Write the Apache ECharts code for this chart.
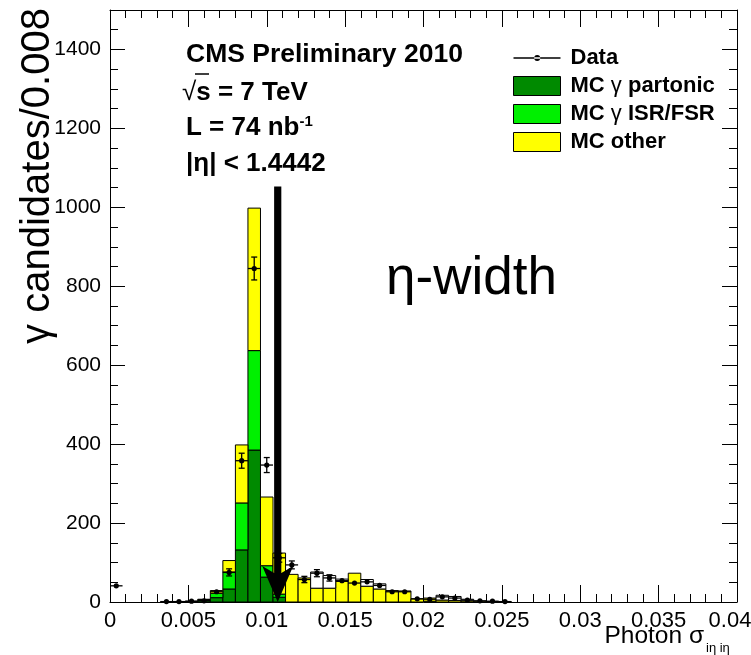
<!DOCTYPE html>
<html><head><meta charset="utf-8">
<script src="https://cdn.jsdelivr.net/npm/echarts@6/dist/echarts.min.js"></script>
<style>html,body{margin:0;padding:0;background:#fff}#c{width:751px;height:655px}</style>
</head><body><div id="c"></div>
<script>
// ---- data (bins of 0.0008 in Photon sigma_ietaieta) ----
const binWidth = 0.0008;
const binLow = [0,0.0008,0.0016,0.0024,0.0032,0.004,0.0048,0.0056,0.0064,0.0072,
  0.008,0.0088,0.0096,0.0104,0.0112,0.012,0.0128,0.0136,0.0144,0.0152,
  0.016,0.0168,0.0176,0.0184,0.0192,0.02,0.0208,0.0216,0.0224,0.0232,
  0.024,0.0248,0.0256,0.0264,0.0272,0.028,0.0288,0.0296,0.0304,0.0312,
  0.032,0.0328,0.0336,0.0344,0.0352,0.036,0.0368,0.0376,0.0384,0.0392];
const mcPartonic = [0,0,0,0,0,0,1,4,11,33, 132,385,63,12,0,0,0,0,0,0, 0,0,0,0,0,2,0,0,0,0, 0,0,0,0,0,0,0,0,0,0, 0,0,0,0,0,0,0,0,0,0];
const mcIsrFsr   = [0,0,0,0,0,0,0,2,11,43, 119,252,29,8,0,0,0,0,0,0, 0,0,0,0,0,0,0,0,0,0, 0,0,0,0,0,0,0,0,0,0, 0,0,0,0,0,0,0,0,0,0];
const mcOther    = [0,0,0,0,0,0,1,1,7,29, 147,361,174,104,70,61,35,35,52,73, 40,33,29,28,8,8,5,4,3,2, 1,1,0,0,0,0,0,0,0,0, 0,0,0,0,0,0,0,0,0,0];
const mcExtra    = [0,0,0,0,0,0,0,0,0,0, 0,0,0,0,0,0,41,32,6,0, 17,13,0,0,0,0,12,10,4,0, 0,0,0,0,0,0,0,0,0,0, 0,0,0,0,0,0,0,0,0,0];
const dataVals   = [41,null,null,null,1,1,2,3,26,75, 358,845,347,112,94,57,73,61,54,48, 51,42,26,26,8,7,13,10,5,3, 2,1,null,null,null,null,null,null,null,null, null,null,null,null,null,null,null,null,null,null];
const dataErr    = [6,0,0,0,1,1,1.4,1.7,5,9, 19,29,19,11,10,8,9,8,7,7, 7,6,5,5,3,3,4,3,2,2, 1,1,0,0,0,0,0,0,0,0, 0,0,0,0,0,0,0,0,0,0];
const arrowX = 0.0107, arrowTop = 1053, arrowTip = 0;

const FONT = '"Liberation Sans", Arial, Helvetica, sans-serif';
const C_PART = '#008a00', C_ISR = '#00f000', C_OTHER = '#ffff00';

function stacked(lower, arr) {
  return binLow.map((x, i) => {
    let base = 0; lower.forEach(a => base += a[i]);
    return [x, x + binWidth, base, base + arr[i]];
  });
}
function rectRenderer(color) {
  return function (params, api) {
    const x0 = api.value(0), x1 = api.value(1), y0 = api.value(2), y1 = api.value(3);
    if (!(y1 > y0)) return null;
    const p0 = api.coord([x0, y0]), p1 = api.coord([x1, y1]);
    return { type: 'rect', shape: { x: p0[0], y: p1[1], width: p1[0] - p0[0], height: p0[1] - p1[1] },
      style: { fill: color, stroke: '#000', lineWidth: 1 } };
  };
}
const pointData = [];
binLow.forEach((x, i) => { if (dataVals[i] != null) pointData.push([x + binWidth / 2, dataVals[i], dataErr[i], binWidth / 2]); });

function pointRenderer(params, api) {
  const xc = api.value(0), v = api.value(1), e = api.value(2), hw = api.value(3);
  const p = api.coord([xc, v]);
  const pl = api.coord([xc - hw, v]), pr = api.coord([xc + hw, v]);
  const pt = api.coord([xc, v + e]), pb = api.coord([xc, Math.max(0, v - e)]);
  const st = { stroke: '#000', lineWidth: 1.3 };
  const ch = [
    { type: 'line', shape: { x1: pl[0], y1: p[1], x2: pr[0], y2: p[1] }, style: st },
    { type: 'circle', shape: { cx: p[0], cy: p[1], r: 2.6 }, style: { fill: '#000' } }
  ];
  if (pb[1] - pt[1] > 6) {
    ch.push({ type: 'line', shape: { x1: p[0], y1: pt[1], x2: p[0], y2: pb[1] }, style: st });
    ch.push({ type: 'line', shape: { x1: p[0] - 3, y1: pt[1], x2: p[0] + 3, y2: pt[1] }, style: st });
    ch.push({ type: 'line', shape: { x1: p[0] - 3, y1: pb[1], x2: p[0] + 3, y2: pb[1] }, style: st });
  }
  return { type: 'group', children: ch };
}
function arrowRenderer(params, api) {
  const x = api.value(0), top = api.value(1), tip = api.value(2);
  const pt = api.coord([x, top]), pp = api.coord([x, tip]);
  const cx = pt[0], headLen = 36, hw = 15.5, sw = 3.6;
  const yb = pp[1] - headLen;
  return { type: 'group', children: [
    { type: 'rect', shape: { x: cx - sw, y: pt[1], width: 2 * sw, height: yb + 8 - pt[1] }, style: { fill: '#000' } },
    { type: 'polygon', shape: { points: [[cx - hw, yb], [cx - sw, yb + 7], [cx + sw, yb + 7], [cx + hw, yb], [cx, pp[1]]] }, style: { fill: '#000' } }
  ] };
}

const axisCommon = {
  axisLine: { show: true, onZero: false, lineStyle: { color: '#000', width: 1 } },
  splitLine: { show: false }
};
const chart = echarts.init(document.getElementById('c'));
chart.setOption({
  animation: false,
  backgroundColor: '#fff',
  grid: { left: 110, right: 14, top: 10, bottom: 53, containLabel: false, outerBoundsMode: 'none' },
  xAxis: [
    Object.assign({ type: 'value', min: 0, max: 0.04, interval: 0.005, position: 'bottom',
      axisTick: { show: true, inside: true, length: 17, lineStyle: { color: '#000' } },
      minorTick: { show: true, splitNumber: 5, length: 8, lineStyle: { color: '#000' } },
      axisLabel: { color: '#000', fontSize: 22, fontFamily: FONT, margin: 8,
        formatter: v => Math.abs(v - 0.04) < 1e-9 ? '{r|0.04}' : String(+v.toFixed(4)),
        rich: { r: { color: '#000', fontSize: 22, fontFamily: FONT, padding: [0, 14, 0, 0] } } } }, axisCommon),
    Object.assign({ type: 'value', min: 0, max: 0.04, interval: 0.005, position: 'top',
      axisTick: { show: true, inside: true, length: 17, lineStyle: { color: '#000' } },
      minorTick: { show: true, splitNumber: 5, length: 8, lineStyle: { color: '#000' } },
      axisLabel: { show: false } }, axisCommon)
  ],
  yAxis: [
    Object.assign({ type: 'value', min: 0, max: 1500, interval: 200, position: 'left',
      axisTick: { show: true, inside: true, length: 15, lineStyle: { color: '#000' } },
      minorTick: { show: true, splitNumber: 4, length: 8, lineStyle: { color: '#000' } },
      axisLabel: { color: '#000', fontSize: 21, fontFamily: FONT, margin: 9,
        formatter: v => v > 1400 ? '' : String(v) } }, axisCommon),
    Object.assign({ type: 'value', min: 0, max: 1500, interval: 200, position: 'right',
      axisTick: { show: true, inside: true, length: 15, lineStyle: { color: '#000' } },
      minorTick: { show: true, splitNumber: 4, length: 8, lineStyle: { color: '#000' } },
      axisLabel: { show: false } }, axisCommon)
  ],
  legend: {
    orient: 'vertical', left: 513, top: 47, padding: 0, itemWidth: 47, itemHeight: 19, itemGap: 6,
    selectedMode: false,
    textStyle: { color: '#000', fontSize: 22, lineHeight: 19, fontWeight: 'bold', fontFamily: FONT, padding: [0, 0, 0, 5],
      rich: {
        t: { color: '#000', fontSize: 22, lineHeight: 19, fontWeight: 'bold', fontFamily: FONT },
        g: { color: '#000', fontSize: 22, lineHeight: 19, fontWeight: 'normal', fontFamily: FONT } } },
    formatter: n => '{t|' + n.replace('γ', '}{g|γ}{t|') + '}',
    data: [
      { name: 'Data', icon: 'path://M0,9L47,9L47,10.4L0,10.4Z M20.7,9.7a3,3 0 1,0 6,0a3,3 0 1,0 -6,0Z', itemStyle: { color: '#000', borderWidth: 0 } },
      { name: 'MC γ partonic', icon: 'rect', itemStyle: { color: C_PART, borderColor: '#000', borderWidth: 1 } },
      { name: 'MC γ ISR/FSR', icon: 'rect', itemStyle: { color: C_ISR, borderColor: '#000', borderWidth: 1 } },
      { name: 'MC other', icon: 'rect', itemStyle: { color: C_OTHER, borderColor: '#000', borderWidth: 1 } }
    ]
  },
  series: [
    { type: 'custom', name: 'MC γ partonic', itemStyle: { color: C_PART }, renderItem: rectRenderer(C_PART),
      encode: { x: [0, 1], y: [2, 3] }, data: stacked([], mcPartonic), z: 2 },
    { type: 'custom', name: 'MC γ ISR/FSR', itemStyle: { color: C_ISR }, renderItem: rectRenderer(C_ISR),
      encode: { x: [0, 1], y: [2, 3] }, data: stacked([mcPartonic], mcIsrFsr), z: 2 },
    { type: 'custom', name: 'MC other', itemStyle: { color: C_OTHER }, renderItem: rectRenderer(C_OTHER),
      encode: { x: [0, 1], y: [2, 3] }, data: stacked([mcPartonic, mcIsrFsr], mcOther), z: 2 },
    { type: 'custom', name: 'MC extra', itemStyle: { color: '#fff' }, renderItem: rectRenderer('#fff'),
      encode: { x: [0, 1], y: [2, 3] }, data: stacked([mcPartonic, mcIsrFsr, mcOther], mcExtra), z: 2 },
    { type: 'custom', name: 'Data', itemStyle: { color: '#000' }, renderItem: pointRenderer,
      encode: { x: 0, y: 1 }, data: pointData, z: 3 },
    { type: 'custom', name: 'cut', renderItem: arrowRenderer, encode: { x: 0, y: [1, 2] },
      data: [[arrowX, arrowTop, arrowTip]], z: 4, clip: false }
  ],
  graphic: [
    { type: 'text', x: 186, y: 55, style: { text: 'CMS Preliminary 2010', font: 'bold 26.5px ' + FONT, fill: '#000', verticalAlign: 'middle' } },
    { type: 'text', x: 182, y: 93, style: { text: '{r|√}{b|s = 7 TeV}', fill: '#000', verticalAlign: 'middle',
      rich: { r: { font: '26px ' + FONT, fill: '#000' }, b: { font: 'bold 26px ' + FONT, fill: '#000' } } } },
    { type: 'line', shape: { x1: 195, y1: 74, x2: 209, y2: 74 }, style: { stroke: '#000', lineWidth: 1.5 } },
    { type: 'text', x: 186, y: 128, style: { text: '{b|L = 74 nb}{s|-1}', fill: '#000', verticalAlign: 'middle',
      rich: { b: { font: 'bold 26px ' + FONT, fill: '#000' }, s: { font: 'bold 15px ' + FONT, fill: '#000', verticalAlign: 'top', padding: [0, 0, 12, 0] } } } },
    { type: 'text', x: 186, y: 164, style: { text: '|η| < 1.4442', font: 'bold 26px ' + FONT, fill: '#000', verticalAlign: 'middle' } },
    { type: 'text', x: 386, y: 279, style: { text: 'η-width', font: '53px ' + FONT, fill: '#000', verticalAlign: 'middle' } },
    { type: 'text', x: 38, y: 176, rotation: Math.PI / 2, style: { text: 'γ candidates/0.008', font: '40px ' + FONT, fill: '#000', align: 'center', verticalAlign: 'middle' } },
    { type: 'text', x: 704, y: 636, style: { text: 'Photon σ', font: '24.5px ' + FONT, fill: '#000', align: 'right', verticalAlign: 'middle' } },
    { type: 'text', x: 706, y: 648, style: { text: 'iη iη', font: '13px ' + FONT, fill: '#000', align: 'left', verticalAlign: 'middle' } }
  ]
});
</script></body></html>
